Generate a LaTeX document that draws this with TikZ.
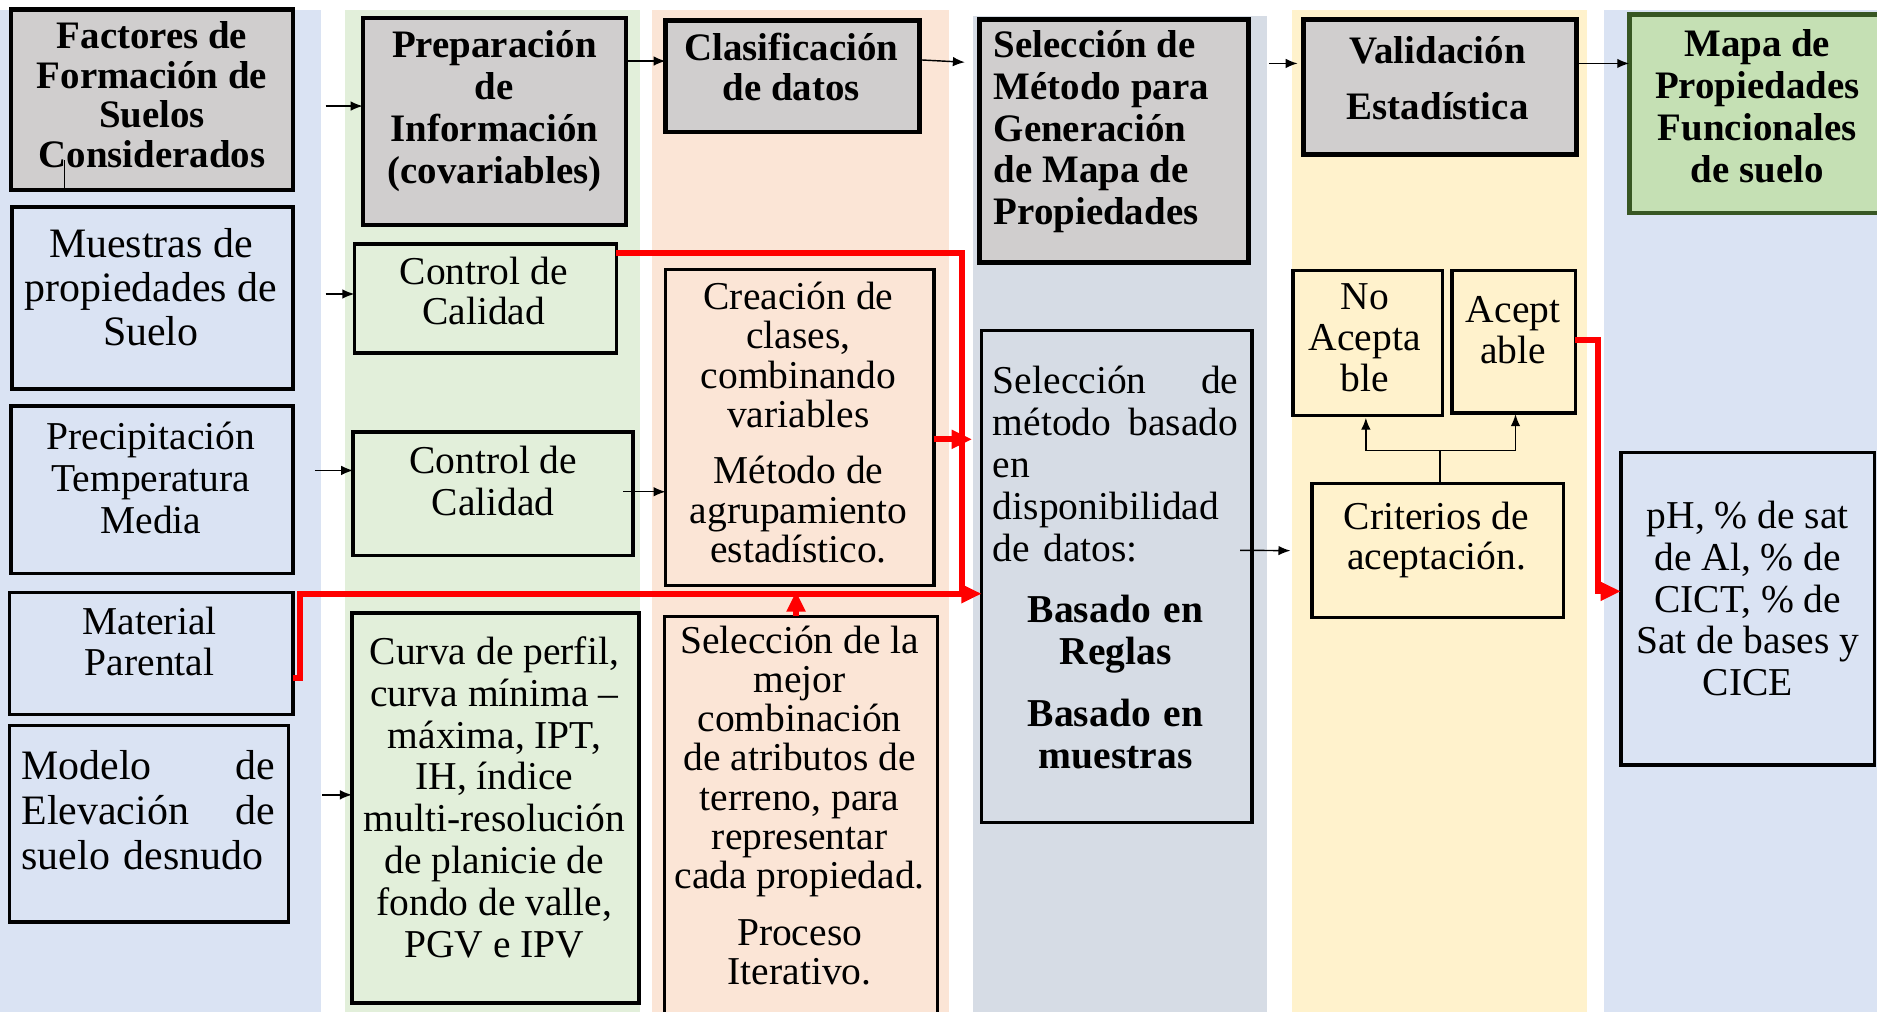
\documentclass[tikz,border=0pt]{standalone}
\usepackage{fontspec}
\setmainfont{Liberation Serif}
\usetikzlibrary{arrows.meta,calc}
\definecolor{cBlue}{HTML}{DAE3F3}
\definecolor{cGreen}{HTML}{E2EFDA}
\definecolor{cPeach}{HTML}{FBE5D6}
\definecolor{cSlate}{HTML}{D6DCE5}
\definecolor{cYellow}{HTML}{FFF2CC}
\definecolor{cGray}{HTML}{D0CECE}
\definecolor{cMapa}{HTML}{C5E0B4}
\definecolor{cMapaB}{HTML}{385723}
\begin{document}
\begin{tikzpicture}[x=1pt,y=-1pt,
 box/.style={draw=black, line width=3pt, anchor=north west, inner sep=0pt, outer sep=0pt},
 hbox/.style={box, fill=cGray, line width=3.6pt},
 txt/.style={inner sep=0pt, align=center, font=\fontsize{33}{#1}\selectfont},
 bigtxt/.style={inner sep=0pt, align=center, font=\fontsize{35}{#1}\selectfont},
 btxt/.style={inner sep=0pt, align=center, font=\fontsize{32.5}{#1}\selectfont\bfseries},
 arr/.style={-{Latex[length=10pt,width=8pt]}, line width=1.2pt},
 rline/.style={draw=red, line width=5pt},
 rarr/.style={rline, -{Triangle[length=17pt,width=15pt]}}
]
\useasboundingbox (0,0) rectangle (1568,845);
\clip (0,0) rectangle (1568,845);
% column backgrounds
\fill[cBlue] (0,8) rectangle (268,845);
\fill[cGreen] (288,8) rectangle (535,845);
\fill[cPeach] (545,8) rectangle (793,845);
\fill[cSlate] (812.5,13) rectangle (1058.7,845);
\fill[cYellow] (1079,8) rectangle (1325.4,845);
\fill[cBlue] (1340,8) rectangle (1568,845);

% header boxes
\node[hbox, minimum width=236pt, minimum height=151pt] (fac) at (9,8) {};
\node[hbox, minimum width=220pt, minimum height=173pt] (prep) at (303,15) {};
\node[hbox, minimum width=212pt, minimum height=93pt] (clas) at (556,17) {};
\node[hbox, line width=4.2pt, minimum width=225pt, minimum height=203pt] (selm) at (818,16) {};
\node[hbox, line width=4.2pt, minimum width=228pt, minimum height=113pt] (val) at (1089,16) {};
\node[box, draw=cMapaB, fill=cMapa, line width=4pt, minimum width=220pt, minimum height=166pt] (mapa) at (1361,12) {};

% other boxes
\node[box, fill=cBlue, minimum width=235pt, minimum height=152pt] (mue) at (10,173) {};
\node[box, fill=cGreen, minimum width=219pt, minimum height=91pt] (cc1) at (296,204) {};
\node[box, fill=cPeach, minimum width=224pt, minimum height=264pt] (crea) at (556,225) {};
\node[box, fill=cSlate, minimum width=226pt, minimum height=411pt] (selb) at (820,276) {};
\node[box, fill=cYellow, minimum width=125pt, minimum height=121pt] (noac) at (1080,226) {};
\node[box, fill=cYellow, minimum width=103pt, minimum height=119pt] (acep) at (1213,226) {};
\node[box, fill=cBlue, minimum width=236pt, minimum height=140pt] (prec) at (9,339) {};
\node[box, fill=cGreen, minimum width=234pt, minimum height=103pt] (cc2) at (295,361) {};
\node[box, fill=cYellow, minimum width=210pt, minimum height=112pt] (crit) at (1096,404) {};
\node[box, fill=cBlue, minimum width=237pt, minimum height=102pt] (mat) at (8,495) {};
\node[box, fill=cBlue, minimum width=233pt, minimum height=164pt] (mod) at (8,606) {};
\node[box, fill=cGreen, minimum width=240pt, minimum height=326pt] (curva) at (294,512) {};
\node[box, fill=cPeach, minimum width=228pt, minimum height=345pt] (mejor) at (555,515) {};
\node[box, fill=cBlue, minimum width=212pt, minimum height=261pt] (ph) at (1354,378) {};

% texts
\node[btxt=33] (facT) at (127,79) {Factores de\\Formación de\\Suelos\\Considerados};
\node[btxt=35] (prepT) at (413,93) {Preparación\\de\\Información\\(covariables)};
\node[btxt=34] (clasT) at (661,56) {Clasificación\\de datos};
\node[btxt=35, align=left, anchor=west] (selmT) at (830,110) {Selección de\\Método para\\Generación\\de Mapa de\\Propiedades};
\node[btxt=47] (valT) at (1201,65) {Validación\\Estadística};
\node[btxt=35] (mapaT) at (1468,89) {Mapa de\\Propiedades\\Funcionales\\de suelo};
\node[bigtxt=37] (mueT) at (126,240) {Muestras de\\propiedades de\\Suelo};
\node[txt=34] (cc1T) at (404,243) {Control de\\Calidad};
\node[txt=33] (creaT) at (667,353) {Creación de\\clases,\\combinando\\variables\\[14pt]Método de\\agrupamiento\\estadístico.};
\node[txt=35, text width=205pt] (selbT) at (932,474) {\makebox[205pt]{Selección\hfill de}\\\makebox[205pt]{método\hfill basado}\\\makebox[205pt][l]{en}\\\makebox[205pt][l]{disponibilidad}\\\makebox[205pt][l]{de datos:}\\[16pt]\textbf{Basado en}\\\textbf{Reglas}\\[17pt]\textbf{Basado en}\\\textbf{muestras}};
\node[txt=35] (precT) at (126,399) {Precipitación\\Temperatura\\Media};
\node[txt=35] (cc2T) at (412,402) {Control de\\Calidad};
\node[txt=34] (matT) at (125,536) {Material\\Parental};
\node[bigtxt=37.5, text width=212pt] (modT) at (124,677) {\makebox[212pt]{Modelo\hfill de}\\\makebox[212pt]{Elevación\hfill de}\\\makebox[212pt][l]{suelo desnudo}};
\node[txt=35] (curvaT) at (413,666) {Curva de perfil,\\curva mínima –\\máxima, IPT,\\IH, índice\\multi-resolución\\de planicie de\\fondo de valle,\\PGV e IPV};
\node[txt=32.7] (mejorT) at (668,673) {Selección de la\\mejor\\combinación\\de atributos de\\terreno, para\\representar\\cada propiedad.\\[15pt]Proceso\\Iterativo.};
\node[txt=34.5] (noacT) at (1140,282) {No\\Acepta\\ble};
\node[txt=34] (acepT) at (1264,276) {Acept\\able};
\node[txt=34] (critT) at (1200,451) {Criterios de\\aceptación.};
\node[txt=35] (phT) at (1460,500) {pH, \% de sat\\de Al, \% de\\CICT, \% de\\Sat de bases y\\CICE};

% small stray line in first box
\draw[line width=0.8pt] ([xshift=44.5pt,yshift=2pt]fac.south west) -- ++(0,-23);

% black connectors
\coordinate (a1s) at (272,88.6);
\coordinate (a4s) at (1060,53);
\coordinate (a6s) at (272,245.6);
\coordinate (a7s) at (263,393);
\coordinate (a8s) at (520.5,410.8);
\coordinate (a9s) at (269,664);
\coordinate (a10s) at (1036,459.7);
\draw[arr] (a1s) -- (a1s -| prep.west);
\draw[arr] ([yshift=-36pt]prep.north east) -- ([yshift=-34pt]clas.north west);
\draw[arr] ([yshift=-33pt]clas.north east) -- ([xshift=-12pt,yshift=-36pt]selm.north west);
\draw[arr] (a4s) -- ([xshift=-5pt,yshift=-37pt]val.north west);
\draw[arr] ([yshift=-37pt]val.north east) -- ([yshift=-41pt]mapa.north west);
\draw[arr] (a6s) -- (a6s -| cc1.west);
\draw[arr] (a7s) -- (a7s -| cc2.west);
\draw[arr] (a8s) -- (a8s -| crea.west);
\draw[arr] (a9s) -- (a9s -| curva.west);
\draw[arr] (a10s) -- ([xshift=-18pt]crit.west);
\coordinate (tj) at ([xshift=2pt,yshift=27.7pt]crit.north);
\draw[line width=1.2pt] ([xshift=2pt]crit.north) -- (tj);
\draw[arr] (tj) -| ([xshift=-1.5pt,yshift=-2pt]noac.south);
\draw[arr] (tj) -| ([xshift=1.5pt,yshift=-1pt]acep.south);

% red connectors
\coordinate (vr) at (804,496);
\coordinate (r2s) at ([yshift=-71pt]mat.north east);
\draw[rline] ([yshift=-7pt]cc1.north east) -| (vr);
\draw[rarr] (r2s) -- ++(6,0) |- (selb.west |- vr);
\draw[rarr] ([yshift=-142pt]crea.north east) -- ++(32,0);
\draw[rarr] ([xshift=-4pt]mejor.north) -- ++(0,-21);
\draw[rarr] ([yshift=-58pt]acep.north east) -- ++(19,0) |- ([yshift=-116pt]ph.north west);
\end{tikzpicture}
\end{document}
